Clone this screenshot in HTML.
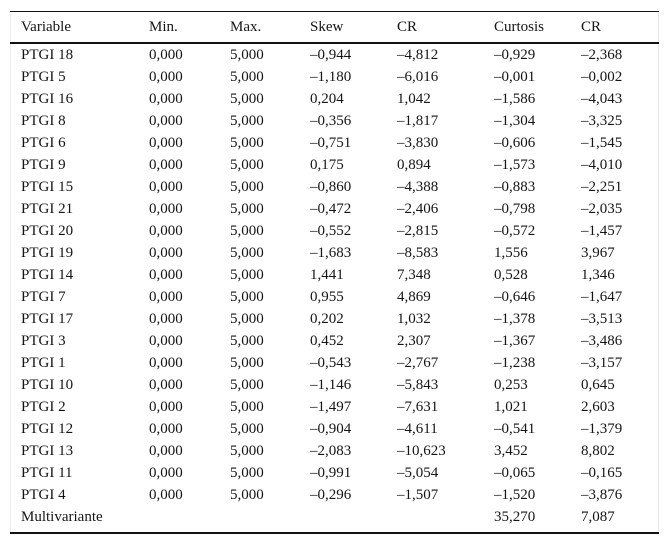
<!DOCTYPE html>
<html>
<head>
<meta charset="utf-8">
<style>
  html,body{margin:0;padding:0;background:#fff;}
  body{width:670px;height:545px;position:relative;overflow:hidden;
       font-family:"Liberation Serif","Times New Roman",serif;font-size:15px;color:#151515;}
  .box{position:absolute;left:10px;top:11px;width:649px;height:523px;
       border-left:1px solid #ececec;border-right:1px solid #e6e6e6;box-sizing:border-box;}
  .hl{position:absolute;left:10px;width:649px;background:#111;}
  .row{position:absolute;left:0;width:670px;height:22px;line-height:22px;white-space:nowrap;}
  .row span{position:absolute;top:0;}
  .c1{left:21px}.c2{left:149px}.c3{left:230px}.c4{left:310px}
  .c5{left:397px}.c6{left:494px}.c7{left:581px}
</style>
</head>
<body>
<div class="box"></div>
<div class="hl" style="top:11px;height:1px;"></div>
<div class="hl" style="top:42px;height:2px;"></div>
<div class="hl" style="top:532px;height:2px;"></div>

<div class="row" style="top:12px;height:30px;line-height:30px;">
  <span class="c1">Variable</span><span class="c2">Min.</span><span class="c3">Max.</span><span class="c4">Skew</span><span class="c5">CR</span><span class="c6">Curtosis</span><span class="c7">CR</span>
</div>

<div class="row" style="top:43.5px"><span class="c1">PTGI 18</span><span class="c2">0,000</span><span class="c3">5,000</span><span class="c4">–0,944</span><span class="c5">–4,812</span><span class="c6">–0,929</span><span class="c7">–2,368</span></div>
<div class="row" style="top:65.5px"><span class="c1">PTGI 5</span><span class="c2">0,000</span><span class="c3">5,000</span><span class="c4">–1,180</span><span class="c5">–6,016</span><span class="c6">–0,001</span><span class="c7">–0,002</span></div>
<div class="row" style="top:87.5px"><span class="c1">PTGI 16</span><span class="c2">0,000</span><span class="c3">5,000</span><span class="c4">0,204</span><span class="c5">1,042</span><span class="c6">–1,586</span><span class="c7">–4,043</span></div>
<div class="row" style="top:109.5px"><span class="c1">PTGI 8</span><span class="c2">0,000</span><span class="c3">5,000</span><span class="c4">–0,356</span><span class="c5">–1,817</span><span class="c6">–1,304</span><span class="c7">–3,325</span></div>
<div class="row" style="top:131.5px"><span class="c1">PTGI 6</span><span class="c2">0,000</span><span class="c3">5,000</span><span class="c4">–0,751</span><span class="c5">–3,830</span><span class="c6">–0,606</span><span class="c7">–1,545</span></div>
<div class="row" style="top:153.5px"><span class="c1">PTGI 9</span><span class="c2">0,000</span><span class="c3">5,000</span><span class="c4">0,175</span><span class="c5">0,894</span><span class="c6">–1,573</span><span class="c7">–4,010</span></div>
<div class="row" style="top:175.5px"><span class="c1">PTGI 15</span><span class="c2">0,000</span><span class="c3">5,000</span><span class="c4">–0,860</span><span class="c5">–4,388</span><span class="c6">–0,883</span><span class="c7">–2,251</span></div>
<div class="row" style="top:197.5px"><span class="c1">PTGI 21</span><span class="c2">0,000</span><span class="c3">5,000</span><span class="c4">–0,472</span><span class="c5">–2,406</span><span class="c6">–0,798</span><span class="c7">–2,035</span></div>
<div class="row" style="top:219.5px"><span class="c1">PTGI 20</span><span class="c2">0,000</span><span class="c3">5,000</span><span class="c4">–0,552</span><span class="c5">–2,815</span><span class="c6">–0,572</span><span class="c7">–1,457</span></div>
<div class="row" style="top:241.5px"><span class="c1">PTGI 19</span><span class="c2">0,000</span><span class="c3">5,000</span><span class="c4">–1,683</span><span class="c5">–8,583</span><span class="c6">1,556</span><span class="c7">3,967</span></div>
<div class="row" style="top:263.5px"><span class="c1">PTGI 14</span><span class="c2">0,000</span><span class="c3">5,000</span><span class="c4">1,441</span><span class="c5">7,348</span><span class="c6">0,528</span><span class="c7">1,346</span></div>
<div class="row" style="top:285.5px"><span class="c1">PTGI 7</span><span class="c2">0,000</span><span class="c3">5,000</span><span class="c4">0,955</span><span class="c5">4,869</span><span class="c6">–0,646</span><span class="c7">–1,647</span></div>
<div class="row" style="top:307.5px"><span class="c1">PTGI 17</span><span class="c2">0,000</span><span class="c3">5,000</span><span class="c4">0,202</span><span class="c5">1,032</span><span class="c6">–1,378</span><span class="c7">–3,513</span></div>
<div class="row" style="top:329.5px"><span class="c1">PTGI 3</span><span class="c2">0,000</span><span class="c3">5,000</span><span class="c4">0,452</span><span class="c5">2,307</span><span class="c6">–1,367</span><span class="c7">–3,486</span></div>
<div class="row" style="top:351.5px"><span class="c1">PTGI 1</span><span class="c2">0,000</span><span class="c3">5,000</span><span class="c4">–0,543</span><span class="c5">–2,767</span><span class="c6">–1,238</span><span class="c7">–3,157</span></div>
<div class="row" style="top:373.5px"><span class="c1">PTGI 10</span><span class="c2">0,000</span><span class="c3">5,000</span><span class="c4">–1,146</span><span class="c5">–5,843</span><span class="c6">0,253</span><span class="c7">0,645</span></div>
<div class="row" style="top:395.5px"><span class="c1">PTGI 2</span><span class="c2">0,000</span><span class="c3">5,000</span><span class="c4">–1,497</span><span class="c5">–7,631</span><span class="c6">1,021</span><span class="c7">2,603</span></div>
<div class="row" style="top:417.5px"><span class="c1">PTGI 12</span><span class="c2">0,000</span><span class="c3">5,000</span><span class="c4">–0,904</span><span class="c5">–4,611</span><span class="c6">–0,541</span><span class="c7">–1,379</span></div>
<div class="row" style="top:439.5px"><span class="c1">PTGI 13</span><span class="c2">0,000</span><span class="c3">5,000</span><span class="c4">–2,083</span><span class="c5">–10,623</span><span class="c6">3,452</span><span class="c7">8,802</span></div>
<div class="row" style="top:461.5px"><span class="c1">PTGI 11</span><span class="c2">0,000</span><span class="c3">5,000</span><span class="c4">–0,991</span><span class="c5">–5,054</span><span class="c6">–0,065</span><span class="c7">–0,165</span></div>
<div class="row" style="top:483.5px"><span class="c1">PTGI 4</span><span class="c2">0,000</span><span class="c3">5,000</span><span class="c4">–0,296</span><span class="c5">–1,507</span><span class="c6">–1,520</span><span class="c7">–3,876</span></div>
<div class="row" style="top:505.5px"><span class="c1">Multivariante</span><span class="c6">35,270</span><span class="c7">7,087</span></div>
</body>
</html>
